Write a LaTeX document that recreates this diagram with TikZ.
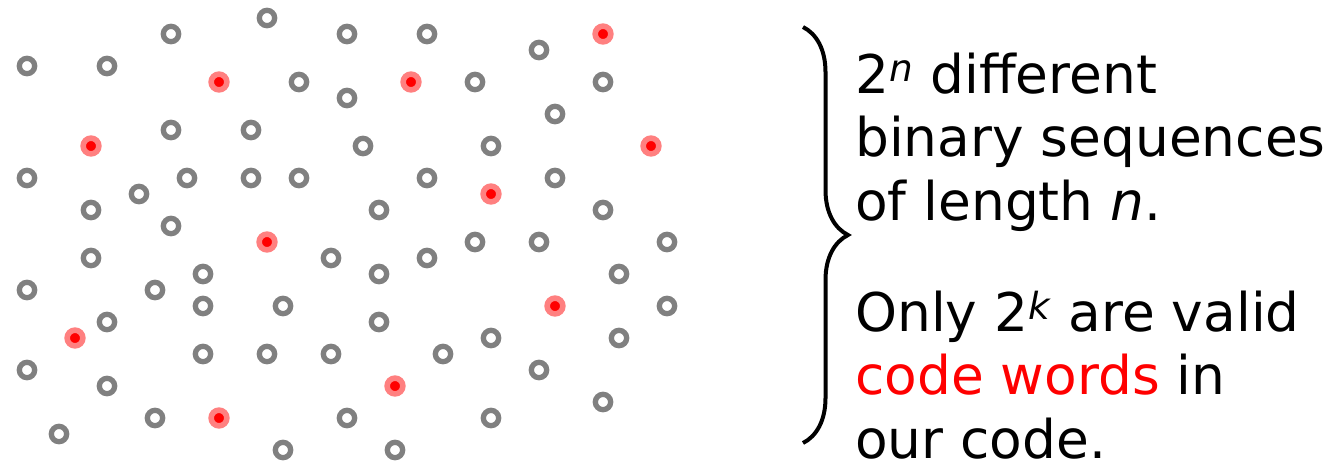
\documentclass[tikz,border=0pt]{standalone}
\usepackage{fontspec}
\setmainfont{DejaVu Sans}
\usetikzlibrary{decorations.pathreplacing}

\begin{document}
\begin{tikzpicture}[x=0.75pt,y=0.75pt,yscale=-1,xscale=1,
  word/.style={circle,draw=gray,line width=4pt,minimum size=11.5pt,inner sep=0pt},
  codeword/.style={circle,draw=red!50,fill=red,line width=4.2pt,minimum size=11.8pt,inner sep=0pt},
  textblock/.style={anchor=base west,inner sep=0pt,align=left,font=\fontsize{40}{47.6}\selectfont}]
\useasboundingbox (0,0) rectangle (1334,461);
% all sequences, on a 16px grid
\foreach \i/\j in {0/3,5/3,9/1,15/0,17/4,9/7,14/7,0/10,10/10,14/10,17/10,7/11,4/12,9/13,
    20/1,25/1,32/2,28/4,36/4,20/5,33/6,21/8,29/8,25/10,33/10,22/12,36/12,28/14,32/14,40/14,
    4/15,19/15,11/16,0/17,8/17,11/18,16/18,5/19,11/21,15/21,19/21,0/22,5/23,8/25,2/26,16/27,
    20/25,25/15,22/16,37/16,40/18,22/19,29/20,37/20,26/21,32/22,36/24,29/25,23/27}
  \node[word] (w-\i-\j) at ({27+16*\i},{18+16*\j}) {};
% the valid code words
\foreach \i/\j in {12/4,4/8,15/14,3/20,12/25,36/1,24/4,39/8,29/11,33/18,23/23}
  \node[codeword] (c-\i-\j) at ({27+16*\i},{18+16*\j}) {};
% brace
\coordinate (bracetop) at (803,27);
\coordinate (bracebot) at (803,443);
\draw[line width=3pt,decorate,decoration={brace,amplitude=33.75pt}] (bracetop) -- (bracebot);
% base anchor sits on the last line
\node[textblock] (all) at (855,220) {2\textsuperscript{\textit{n}} different\\binary sequences\\of length \textit{n}.};
\node[textblock] (valid) at (855,458) {Only 2\textsuperscript{\textit{k}} are valid\\\textcolor{red}{code words} in\\our code.};
\end{tikzpicture}
\end{document}
